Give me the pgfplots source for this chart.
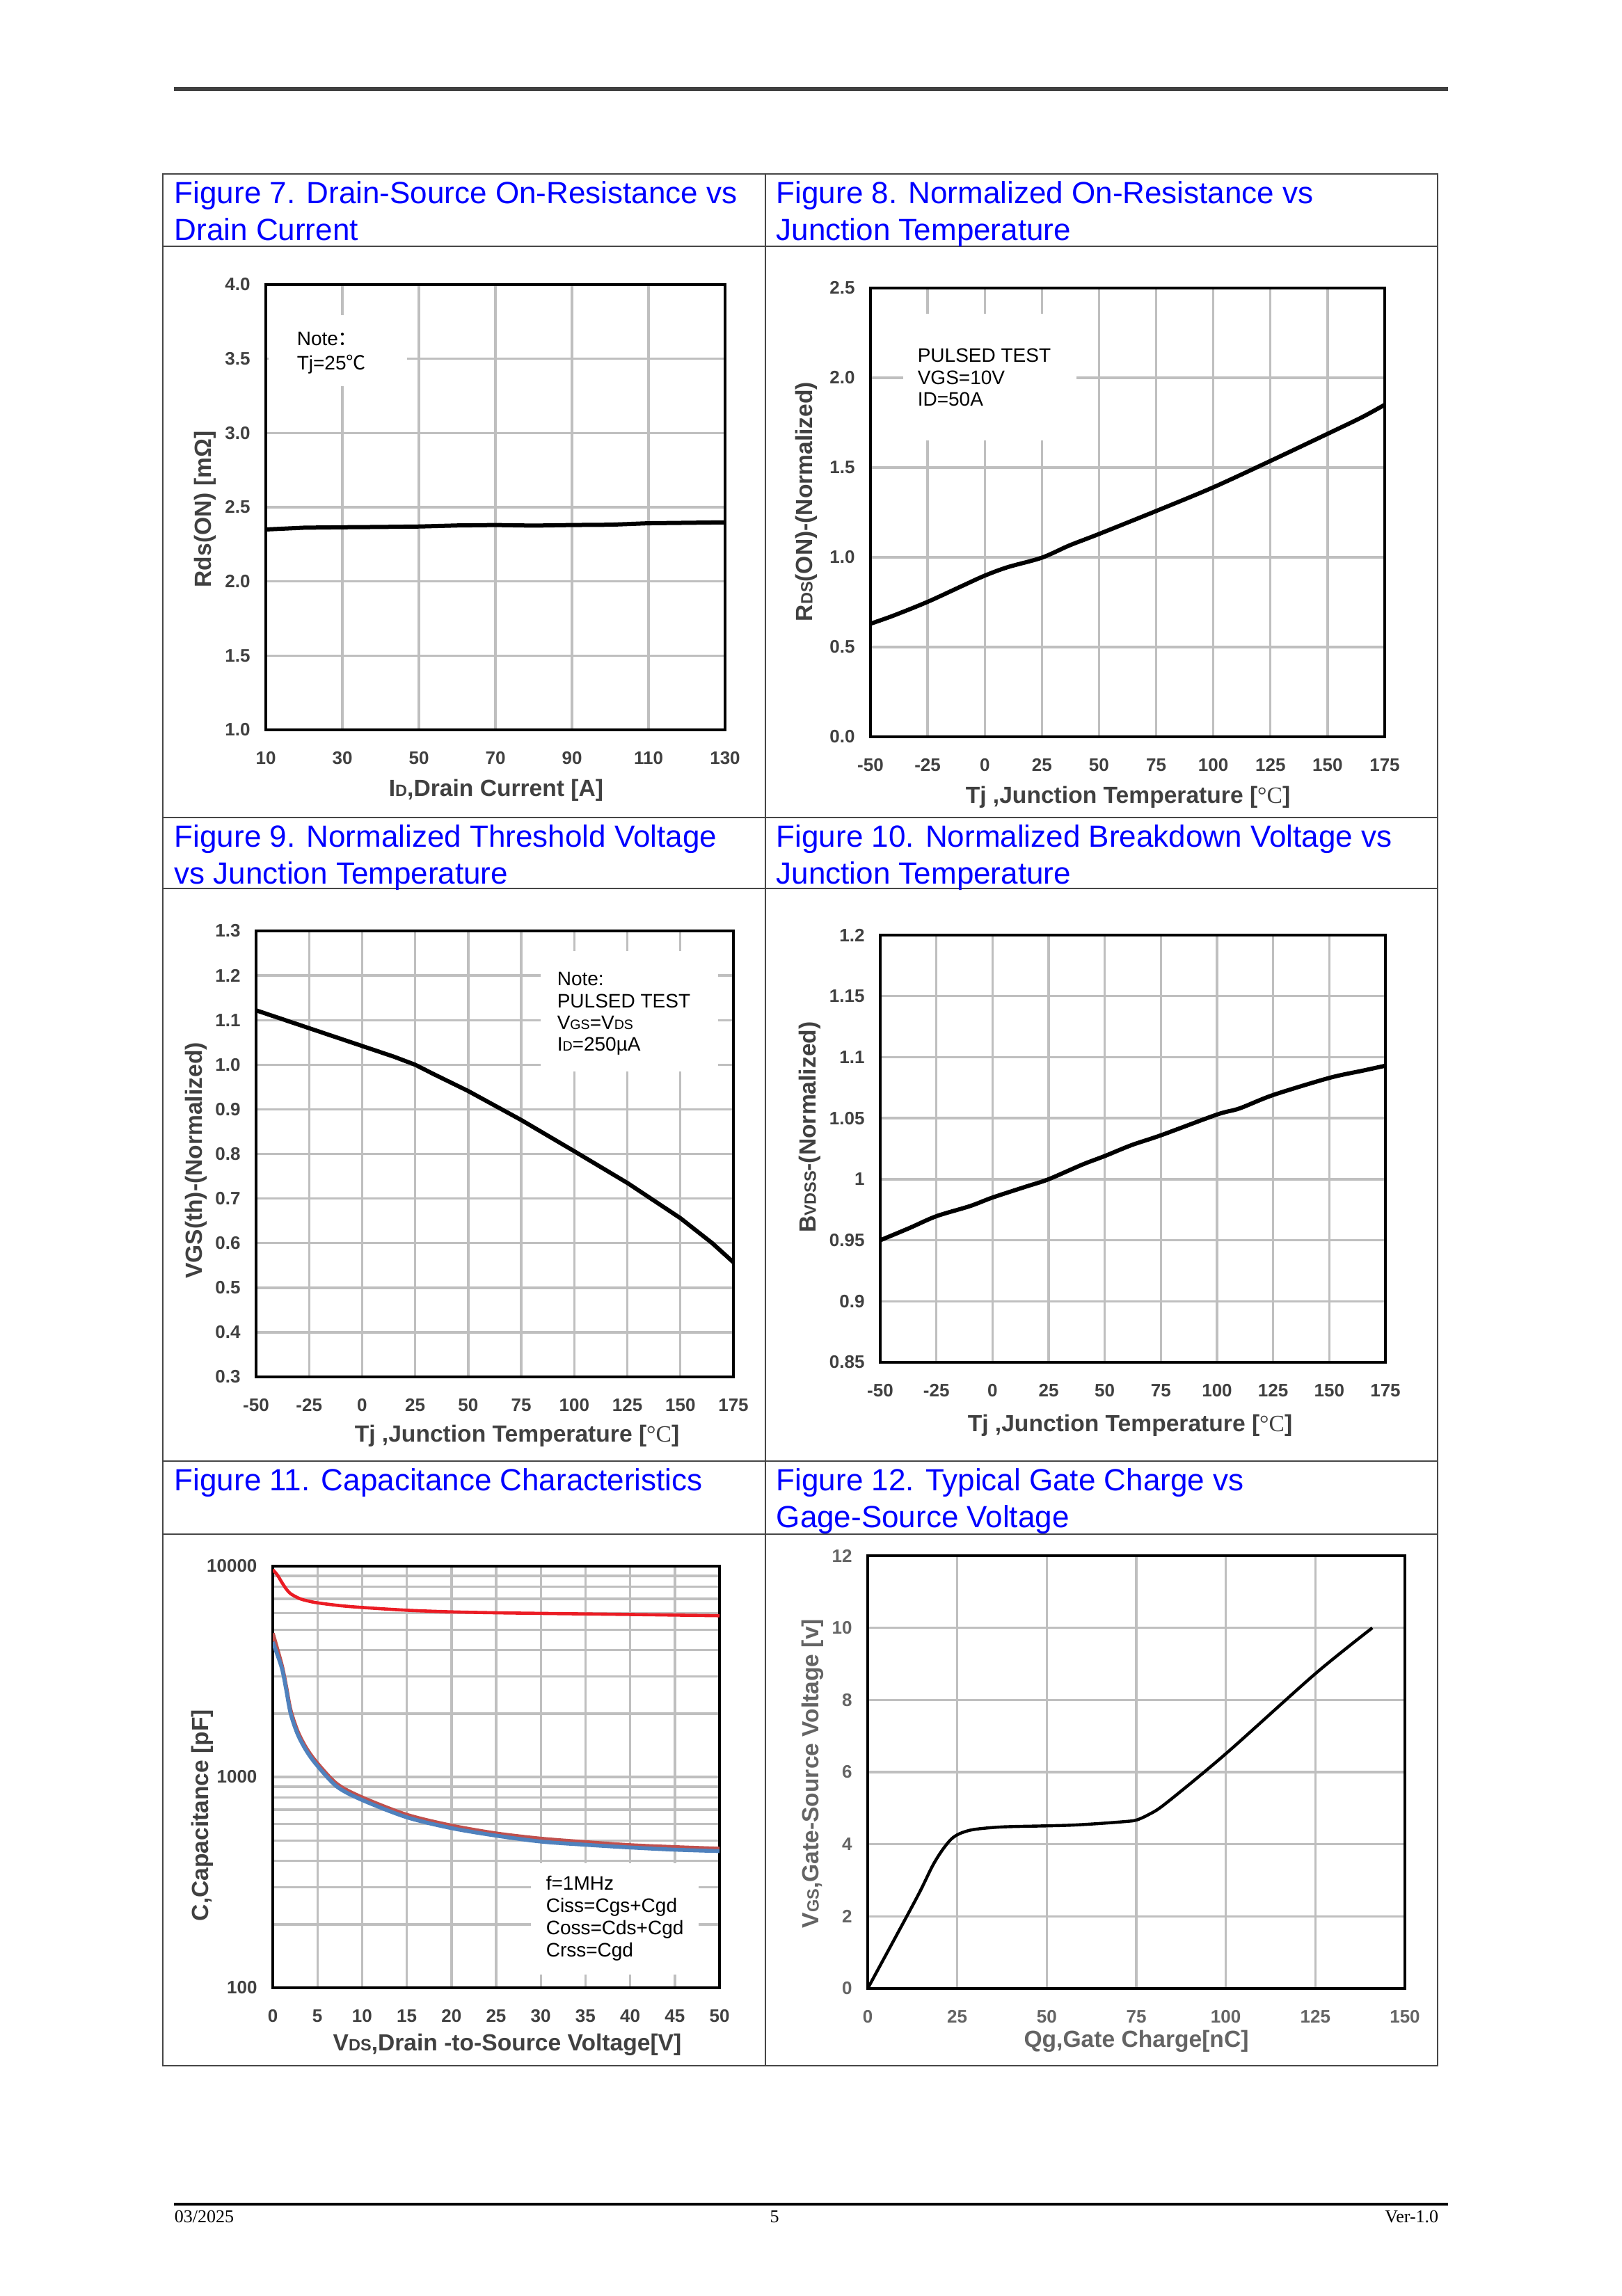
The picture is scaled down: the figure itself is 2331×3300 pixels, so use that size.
\documentclass[border=0pt]{standalone}
\usepackage{fontspec}
\setmainfont{Liberation Sans}
\newfontfamily\serif{Liberation Serif}
\newfontfamily\cjk{Noto Sans CJK SC}
\usepackage{graphicx}
\usepackage{pgfplots}
\pgfplotsset{compat=1.18}

\definecolor{titleblue}{RGB}{0,0,255}
\definecolor{tl}{RGB}{64,64,64}
\definecolor{tlb}{RGB}{100,100,100}
\definecolor{gridc}{RGB}{191,191,191}
\definecolor{frame}{RGB}{70,70,70}
\definecolor{cissred}{RGB}{235,28,36}
\definecolor{cossred}{RGB}{192,80,77}
\definecolor{crssblue}{RGB}{79,129,189}

\newcommand\sm[1]{\scalebox{0.7}{#1}}
\newcommand\tickfont{\bfseries\fontsize{6.5}{7}\selectfont}
\newcommand\labfont{\bfseries\fontsize{8.4}{10}\selectfont}
\newcommand\notefont{\fontsize{7}{8}\selectfont}
\newcommand\titfont{\fontsize{11}{13.25}\selectfont}

\pgfplotsset{
  ds/.style={
    scale only axis, anchor=north west,
    axis line style={line width=1pt,black},
    grid=major, major grid style={line width=0.85pt,gridc},
    minor grid style={line width=0.85pt,gridc},
    major tick length=0pt, minor tick length=0pt, tick style={draw=none},
    tick label style={font=\tickfont, color=tl},
    xticklabel style={yshift=-4.3pt},
    yticklabel style={xshift=-2.1pt},
  },
}

\begin{document}
\begin{tikzpicture}
\begin{scope}[x=0.25pt,y=-0.25pt]
\path (0,0) rectangle (2331,3300);
% header / footer
\draw[line width=1.5pt, color=tl] (250,128) -- (2081,128);
\draw[line width=1pt, black] (250,3168) -- (2081,3168);
\node[anchor=base west, inner sep=0, font=\serif\fontsize{6.5}{7}\selectfont] at (250,3194) {03/2025};
\node[anchor=base, inner sep=0, font=\serif\fontsize{6.5}{7}\selectfont] at (1113,3194) {5};
\node[anchor=base east, inner sep=0, font=\serif\fontsize{6.5}{7}\selectfont] at (2068,3194) {Ver-1.0};
% table
\draw[line width=0.5pt, frame] (234,250) rectangle (2066,2969);
\draw[line width=0.5pt, frame] (1100,250) -- (1100,2969);
\foreach \yy in {354,1175,1277,2100,2205} \draw[line width=0.5pt, frame] (234,\yy) -- (2066,\yy);
% titles
\begin{scope}[every node/.style={anchor=base west, inner sep=0, font=\titfont, text=titleblue}]
\node at (250,292) {Figure 7. Drain-Source On-Resistance vs};
\node at (250,345) {Drain Current};
\node at (1115,292) {Figure 8. Normalized On-Resistance vs};
\node at (1115,345) {Junction Temperature};
\node at (250,1217) {Figure 9. Normalized Threshold Voltage};
\node at (250,1270) {vs Junction Temperature};
\node at (1115,1217) {Figure 10. Normalized Breakdown Voltage vs};
\node at (1115,1270) {Junction Temperature};
\node at (250,2142) {Figure 11. Capacitance Characteristics};
\node at (1115,2142) {Figure 12. Typical Gate Charge vs};
\node at (1115,2195) {Gage-Source Voltage};
\end{scope}
\end{scope}

% ---------------- Figure 7
\begin{axis}[ds, at={(95.5pt,-102.25pt)}, width=165pt, height=160pt,
  xmin=10, xmax=130, ymin=1, ymax=4,
  xtick={10,30,50,70,90,110,130}, xticklabels={10,30,50,70,90,110,130},
  ytick={1,1.5,2,2.5,3,3.5,4}, yticklabels={1.0,1.5,2.0,2.5,3.0,3.5,4.0}]
\addplot[black, line width=1.5pt] coordinates {
(10,2.35)(20,2.362)(30,2.365)(40,2.367)(50,2.37)(60,2.377)(70,2.38)(80,2.376)
(90,2.38)(100,2.382)(110,2.392)(120,2.395)(130,2.398)};
\end{axis}

% ---------------- Figure 8
\begin{axis}[ds, at={(312.75pt,-103.5pt)}, width=184.75pt, height=161.25pt,
  xmin=-50, xmax=175, ymin=0, ymax=2.5,
  xtick={-50,-25,0,25,50,75,100,125,150,175}, xticklabels={-50,-25,0,25,50,75,100,125,150,175},
  ytick={0,0.5,1,1.5,2,2.5}, yticklabels={0.0,0.5,1.0,1.5,2.0,2.5}]
\addplot[black, line width=1.5pt, smooth] coordinates {
(-50,0.63)(-40,0.675)(-25,0.752)(-10,0.84)(0,0.898)(10,0.945)(25,0.998)(37,1.066)
(50,1.13)(75,1.258)(100,1.39)(125,1.537)(150,1.688)(165,1.78)(175,1.85)};
\end{axis}

% ---------------- Figure 9
\begin{axis}[ds, at={(92pt,-334.5pt)}, width=171.5pt, height=160.25pt,
  xmin=-50, xmax=175, ymin=0.3, ymax=1.3,
  xtick={-50,-25,0,25,50,75,100,125,150,175}, xticklabels={-50,-25,0,25,50,75,100,125,150,175},
  ytick={0.3,0.4,0.5,0.6,0.7,0.8,0.9,1.0,1.1,1.2,1.3},
  yticklabels={0.3,0.4,0.5,0.6,0.7,0.8,0.9,1.0,1.1,1.2,1.3}]
\addplot[black, line width=1.5pt] coordinates {
(-50,1.122)(-25,1.082)(0,1.042)(15,1.018)(25,1.0)(33.7,0.979)(50,0.941)(75,0.876)
(100,0.806)(125,0.735)(150,0.656)(165,0.6)(175,0.557)};
\end{axis}

% ---------------- Figure 10
\begin{axis}[ds, at={(316.25pt,-336pt)}, width=181.5pt, height=153.5pt,
  xmin=-50, xmax=175, ymin=0.85, ymax=1.2,
  xtick={-50,-25,0,25,50,75,100,125,150,175}, xticklabels={-50,-25,0,25,50,75,100,125,150,175},
  ytick={0.85,0.9,0.95,1,1.05,1.1,1.15,1.2},
  yticklabels={0.85,0.9,0.95,1,1.05,1.1,1.15,1.2}]
\addplot[black, line width=1.5pt, smooth] coordinates {
(-50,0.950)(-37,0.96)(-25,0.9697)(-10,0.978)(0,0.985)(15,0.994)(25,1.000)(40,1.012)
(50,1.019)(62,1.028)(75,1.036)(100,1.053)(110,1.058)(125,1.069)(150,1.083)(165,1.089)(175,1.093)};
\end{axis}

% ---------------- Figure 11
\begin{axis}[ds, at={(98pt,-562.75pt)}, width=160.5pt, height=151.5pt,
  ymode=log, xmin=0, xmax=50, ymin=100, ymax=10000,
  xtick={0,5,...,50}, xticklabels={0,5,10,15,20,25,30,35,40,45,50},
  ytick={100,1000,10000}, yticklabels={100,1000,10000},
  yminorgrids=true]
\addplot[cissred, line width=1.15pt, smooth] coordinates {
(0,9620)(0.5,9100)(1,8400)(1.5,7800)(2,7400)(3,7020)(4,6830)(5,6700)(7.5,6500)
(10,6370)(15,6180)(20,6070)(25,6010)(30,5970)(40,5900)(50,5820)};
\addplot[cossred, line width=1.4pt, smooth] coordinates {
(0,4800)(1,3400)(1.5,2680)(2,2070)(2.8,1640)(3.8,1360)(5,1160)(7.2,925)(10,800)
(15,662)(20,588)(25,540)(30,510)(35,491)(40,475)(45,465)(50,457)};
\addplot[crssblue, line width=1.4pt, smooth] coordinates {
(0,4370)(1,3300)(1.5,2600)(2,2000)(2.8,1590)(3.8,1324)(5,1129)(7.2,899)(10,778)
(15,644)(20,572)(25,527)(30,494)(35,477)(40,463)(45,452)(50,445)};
\end{axis}

% ---------------- Figure 12
\begin{axis}[ds, at={(311.75pt,-559pt)}, width=193pt, height=155.5pt,
  xmin=0, xmax=150, ymin=0, ymax=12,
  tick label style={font=\tickfont, color=tlb},
  xtick={0,25,50,75,100,125,150}, xticklabels={0,25,50,75,100,125,150},
  ytick={0,2,4,6,8,10,12}, yticklabels={0,2,4,6,8,10,12}]
\addplot[black, line width=1.1pt, smooth] coordinates {
(0,0)(10.9,2.0)(14.8,2.73)(18.1,3.40)(20.7,3.82)(23.3,4.14)(25.8,4.30)
(29.7,4.41)(37.5,4.48)(50,4.51)(57,4.53)(64,4.57)(72,4.63)(75,4.67)(78.4,4.82)
(83.2,5.13)(100,6.51)(125,8.73)(140.9,10.0)};
\end{axis}

% ---------------- notes and axis labels
\begin{scope}[x=0.25pt,y=-0.25pt]
\fill[white] (386,453) rectangle (585,555);
\fill[white] (1298,451) rectangle (1547,633);
\fill[white] (777,1367) rectangle (1032,1540);
\fill[white] (763,2678) rectangle (1004,2838);
\begin{scope}[every node/.style={anchor=base west, inner sep=0, font=\notefont}]
\node at (426,496) {Note{\cjk ：}};
\node at (426,531) {Tj=25{\cjk ℃}};
\node at (1318,520) {PULSED TEST};
\node at (1318,552) {VGS=10V};
\node at (1318,583) {ID=50A};
\node at (800,1416) {Note:};
\node at (800,1448) {PULSED TEST};
\node at (800,1479) {V\sm{GS}=V\sm{DS}};
\node at (800,1510) {I\sm{D}=250µA};
\node at (784,2716) {f=1MHz};
\node at (784,2748) {Ciss=Cgs+Cgd};
\node at (784,2780) {Coss=Cds+Cgd};
\node at (784,2812) {Crss=Cgd};
\end{scope}
\begin{scope}[every node/.style={inner sep=0, font=\labfont, text=tl}]
\node[anchor=base] at (713,1144) {I\sm{D},Drain Current [A]};
\node[rotate=90] at (294.5,732) {Rds(ON) [mΩ]};
\node[anchor=base] at (1621,1154) {Tj ,Junction Temperature [{\serif\mdseries °C}]};
\node[rotate=90] at (1159,721) {R\sm{DS}(ON)-(Normalized)};
\node[anchor=base] at (743,2072) {Tj ,Junction Temperature [{\serif\mdseries °C}]};
\node[rotate=90] at (282,1668) {VGS(th)-(Normalized)};
\node[anchor=base] at (1624,2057) {Tj ,Junction Temperature [{\serif\mdseries °C}]};
\node[rotate=90] at (1164,1620) {B\sm{VDSS}-(Normalized)};
\node[anchor=base] at (729,2947) {V\sm{DS},Drain -to-Source Voltage[V]};
\node[rotate=90] at (290.6,2609) {C,Capacitance [pF]};
\node[anchor=base, text=tlb] at (1633,2942) {Qg,Gate Charge[nC]};
\node[rotate=90, text=tlb] at (1168,2549) {V\sm{GS},Gate-Source Voltage [v]};
\end{scope}
\end{scope}
\end{tikzpicture}
\end{document}
